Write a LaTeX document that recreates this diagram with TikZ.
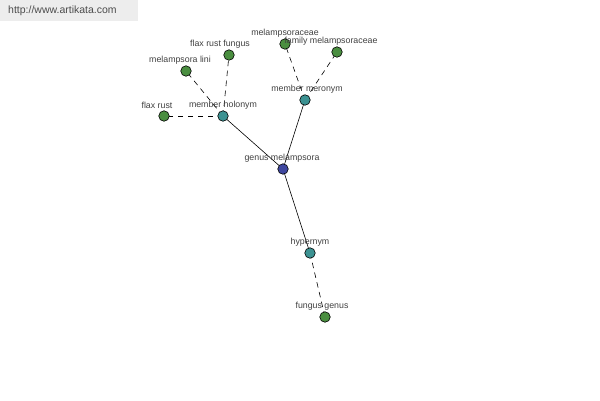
\documentclass[tikz,border=0pt]{standalone}
\usepackage{fontspec}
\setmainfont{Liberation Sans}
\definecolor{leafgreen}{HTML}{4A8E40}
\definecolor{relteal}{HTML}{3C9292}
\definecolor{hubblue}{HTML}{3F479F}
\begin{document}
\begin{tikzpicture}[x=1pt,y=-1pt,
  dot/.style={circle,draw=black,line width=0.6pt,minimum size=10.5pt,inner sep=0pt},
  leaf/.style={dot,fill=leafgreen},
  rel/.style={dot,fill=relteal},
  hub/.style={dot,fill=hubblue},
  lbl/.style={font=\fontsize{8.8}{10}\selectfont,text=black!75,inner sep=0pt},
  solidedge/.style={draw=black,line width=0.6pt},
  dashedge/.style={draw=black,line width=0.6pt,dash pattern=on 5.5pt off 4.5pt}]
\useasboundingbox (0,0) rectangle (600,400);
\fill[black!7] (0,0) rectangle (138,21);
\node[font=\fontsize{10.5}{12}\selectfont,text=black!70,anchor=west,inner sep=0pt] (url) at (8,11) {http://www.artikata.com};
% nodes
\coordinate (pg) at (283,169);
\coordinate (ph) at (223,116);
\coordinate (pm) at (305,100);
\coordinate (py) at (310,253);
\coordinate (pfr) at (164,116);
\coordinate (pml) at (186,71);
\coordinate (pff) at (229,55);
\coordinate (pmc) at (285,44);
\coordinate (pfm) at (337,52);
\coordinate (pfg) at (325,317);
% edges
\draw[solidedge] (pg) -- (ph);
\draw[solidedge] (pg) -- (pm);
\draw[solidedge] (pg) -- (py);
\draw[dashedge] (ph) -- (pfr);
\draw[dashedge] (ph) -- (pml);
\draw[dashedge] (ph) -- (pff);
\draw[dashedge] (pm) -- (pmc);
\draw[dashedge] (pm) -- (pfm);
\draw[dashedge] (py) -- (pfg);
% dots
\node[hub] (g) at (pg) {};
\node[rel] (h) at (ph) {};
\node[rel] (m) at (pm) {};
\node[rel] (y) at (py) {};
\node[leaf] (fr) at (pfr) {};
\node[leaf] (ml) at (pml) {};
\node[leaf] (ff) at (pff) {};
\node[leaf] (mc) at (pmc) {};
\node[leaf] (fm) at (pfm) {};
\node[leaf] (fg) at (pfg) {};
% labels
\node[lbl] (lg) at (282,158) {genus melampsora};
\node[lbl] (lh) at (223,105) {member holonym};
\node[lbl] (lm) at (307,89) {member meronym};
\node[lbl] (ly) at (310,242) {hypernym};
\node[lbl] (lfr) at (157,105) {flax rust};
\node[lbl] (lml) at (180,60) {melampsora lini};
\node[lbl] (lff) at (220,44) {flax rust fungus};
\node[lbl] (lmc) at (285,33) {melampsoraceae};
\node[lbl] (lfm) at (331,41) {family melampsoraceae};
\node[lbl] (lfg) at (322,306) {fungus genus};
\end{tikzpicture}
\end{document}
